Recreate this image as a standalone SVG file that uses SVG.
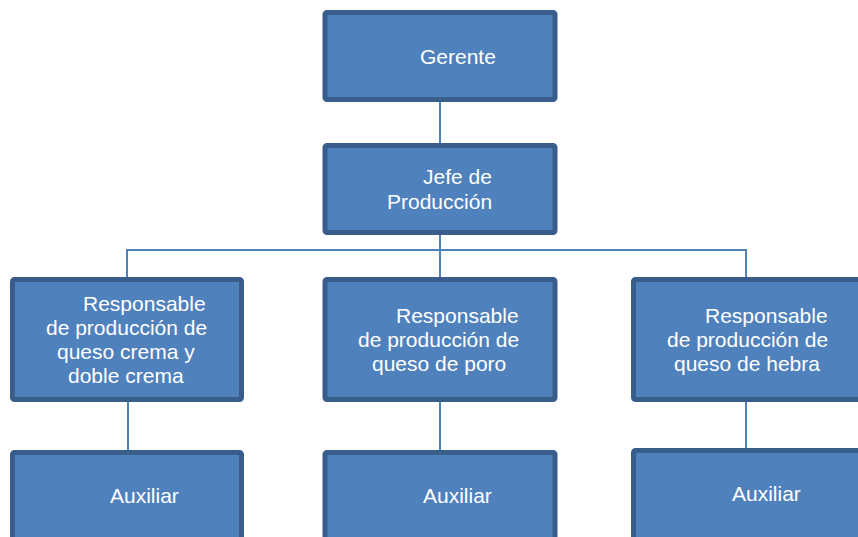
<svg xmlns="http://www.w3.org/2000/svg" width="858" height="537" viewBox="0 0 858 537">
<style>
.box{fill:#4F81BD;stroke:#385D8A;stroke-width:5}
.t{font-family:"Liberation Sans",Arial,sans-serif;font-size:21px;fill:#FFFFFF}
.c{stroke:#4F81BD;stroke-width:2;fill:none}
</style>
<rect width="858" height="537" fill="#FFFFFF"/>
<g id="connectors">
<path class="c" d="M440 100V145"/>
<path class="c" d="M440 233V250"/>
<path class="c" d="M127 279V250H746V279"/>
<path class="c" d="M440 250V279"/>
<path class="c" d="M128 400V452"/>
<path class="c" d="M440 400V452"/>
<path class="c" d="M746 400V450"/>
</g>
<g id="gerente">
<rect class="box" x="325" y="12.5" width="230" height="87" rx="2"/>
<text class="t" x="420" y="64">Gerente</text>
</g>
<g id="jefe">
<rect class="box" x="325" y="145.5" width="230" height="87" rx="2"/>
<text class="t" x="423" y="184">Jefe de</text>
<text class="t" x="387" y="209">Producción</text>
</g>
<g id="resp1">
<rect class="box" x="12.5" y="279.5" width="229" height="120" rx="2"/>
<text class="t" x="83" y="311">Responsable</text>
<text class="t" x="46" y="335">de producción de</text>
<text class="t" x="57" y="359">queso crema y</text>
<text class="t" x="68" y="383">doble crema</text>
</g>
<g id="resp2">
<rect class="box" x="325" y="279.5" width="230" height="120" rx="2"/>
<text class="t" x="396" y="323">Responsable</text>
<text class="t" x="358" y="347">de producción de</text>
<text class="t" x="372" y="371">queso de poro</text>
</g>
<g id="resp3">
<rect class="box" x="633.5" y="279.5" width="230" height="120" rx="2"/>
<text class="t" x="705" y="323">Responsable</text>
<text class="t" x="667" y="347">de producción de</text>
<text class="t" x="674" y="371">queso de hebra</text>
</g>
<g id="aux1">
<rect class="box" x="12.5" y="452.5" width="229" height="100" rx="2"/>
<text class="t" x="110" y="503">Auxiliar</text>
</g>
<g id="aux2">
<rect class="box" x="325" y="452.5" width="230" height="100" rx="2"/>
<text class="t" x="423" y="503">Auxiliar</text>
</g>
<g id="aux3">
<rect class="box" x="633.5" y="450.5" width="230" height="100" rx="2"/>
<text class="t" x="732" y="501">Auxiliar</text>
</g>
</svg>
